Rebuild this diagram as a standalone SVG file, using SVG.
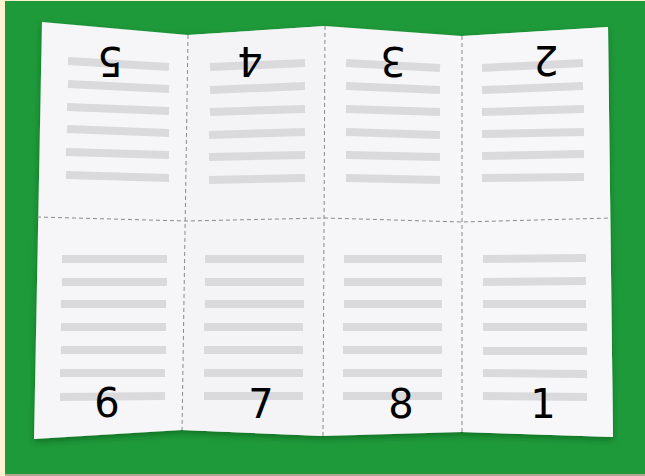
<svg xmlns="http://www.w3.org/2000/svg" width="645" height="476" viewBox="0 0 645 476">
  <style>
    .tl { stroke: #dadadc; stroke-width: 8; stroke-linecap: butt; fill: none; }
    .fold { stroke: #8a8a8a; stroke-width: 1; stroke-dasharray: 4 3; fill: none; }
    .num { font-family: "DejaVu Sans", "Liberation Sans", sans-serif; font-size: 40px; fill: #000; text-anchor: middle; }
  </style>
  <defs>
    <filter id="shadow" x="-5%" y="-5%" width="110%" height="115%">
      <feDropShadow dx="0" dy="3" stdDeviation="3" flood-color="#003310" flood-opacity="0.4"/>
    </filter>
  </defs>
  <rect x="0" y="0" width="645" height="476" fill="#fff2cf"/>
  <rect x="5" y="1" width="640" height="473" fill="#1e9a3a"/>
  <rect x="5" y="474" width="640" height="2" fill="#b3a48e"/>

  <g id="paper">
    <polygon points="42,22 188,35 325,26 462,36 608,27 613,437 462,432 323,436 182,430 34,439" fill="#f6f6f8" filter="url(#shadow)"/>
    <polygon points="188,35 325,26 323,436 182,430" fill="#f3f3f5" opacity="0.6"/>
    <polygon points="462,36 608,27 613,437 462,432" fill="#f8f8fa" opacity="0.6"/>
  </g>

  <g id="connectors">
    <polyline class="fold" points="37,217 186,221 325,218 462,222 611,218"/>
    <line class="fold" x1="188" y1="35" x2="182" y2="430"/>
    <line class="fold" x1="325" y1="26" x2="323" y2="436"/>
    <line class="fold" x1="462" y1="36" x2="462" y2="432"/>
  </g>

  <g id="panel-5">
    <line class="tl" x1="68" y1="61" x2="169" y2="67"/>
    <line class="tl" x1="68" y1="84" x2="169" y2="89"/>
    <line class="tl" x1="67" y1="107" x2="169" y2="111"/>
    <line class="tl" x1="67" y1="129" x2="169" y2="133"/>
    <line class="tl" x1="66" y1="152" x2="169" y2="155"/>
    <line class="tl" x1="66" y1="175" x2="169" y2="178"/>
    <text class="num" x="110" y="76.6" transform="rotate(180 110 62)">5</text>
  </g>

  <g id="panel-4">
    <line class="tl" x1="210" y1="67" x2="305" y2="63"/>
    <line class="tl" x1="210" y1="90" x2="305" y2="86"/>
    <line class="tl" x1="210" y1="112" x2="305" y2="109"/>
    <line class="tl" x1="209" y1="135" x2="305" y2="132"/>
    <line class="tl" x1="209" y1="157" x2="305" y2="155"/>
    <line class="tl" x1="209" y1="180" x2="305" y2="178"/>
    <text class="num" x="250" y="76" transform="rotate(180 250 61.4)">4</text>
  </g>

  <g id="panel-3">
    <line class="tl" x1="346" y1="63" x2="440" y2="68"/>
    <line class="tl" x1="346" y1="86" x2="440" y2="90"/>
    <line class="tl" x1="346" y1="109" x2="440" y2="112"/>
    <line class="tl" x1="346" y1="132" x2="440" y2="135"/>
    <line class="tl" x1="346" y1="155" x2="440" y2="157"/>
    <line class="tl" x1="346" y1="178" x2="440" y2="180"/>
    <text class="num" x="393" y="76" transform="rotate(180 393 61.4)">3</text>
  </g>

  <g id="panel-2">
    <line class="tl" x1="482" y1="68" x2="583" y2="63"/>
    <line class="tl" x1="482" y1="90" x2="583" y2="86"/>
    <line class="tl" x1="482" y1="112" x2="584" y2="109"/>
    <line class="tl" x1="482" y1="134" x2="584" y2="132"/>
    <line class="tl" x1="482" y1="156" x2="584" y2="154"/>
    <line class="tl" x1="482" y1="178" x2="584" y2="177"/>
    <text class="num" x="546" y="75" transform="rotate(180 546 60.4)">2</text>
  </g>

  <g id="panel-6">
    <line class="tl" x1="62" y1="259" x2="167" y2="259"/>
    <line class="tl" x1="62" y1="282" x2="167" y2="282"/>
    <line class="tl" x1="61" y1="304" x2="166" y2="304"/>
    <line class="tl" x1="61" y1="327" x2="166" y2="327"/>
    <line class="tl" x1="61" y1="350" x2="166" y2="350"/>
    <line class="tl" x1="60" y1="373" x2="165" y2="373"/>
    <line class="tl" x1="60" y1="397" x2="165" y2="396"/>
    <text class="num" x="107" y="417">6</text>
  </g>

  <g id="panel-7">
    <line class="tl" x1="205" y1="259" x2="304" y2="259"/>
    <line class="tl" x1="205" y1="282" x2="304" y2="282"/>
    <line class="tl" x1="205" y1="304" x2="304" y2="304"/>
    <line class="tl" x1="204" y1="327" x2="303" y2="327"/>
    <line class="tl" x1="204" y1="350" x2="303" y2="350"/>
    <line class="tl" x1="204" y1="373" x2="303" y2="373"/>
    <line class="tl" x1="204" y1="396" x2="303" y2="396"/>
    <text class="num" x="261" y="418">7</text>
  </g>

  <g id="panel-8">
    <line class="tl" x1="344" y1="259" x2="442" y2="259"/>
    <line class="tl" x1="344" y1="282" x2="442" y2="282"/>
    <line class="tl" x1="344" y1="304" x2="442" y2="304"/>
    <line class="tl" x1="343" y1="327" x2="442" y2="327"/>
    <line class="tl" x1="343" y1="350" x2="442" y2="350"/>
    <line class="tl" x1="343" y1="373" x2="442" y2="373"/>
    <line class="tl" x1="343" y1="396" x2="442" y2="396"/>
    <text class="num" x="401" y="418">8</text>
  </g>

  <g id="panel-1">
    <line class="tl" x1="483" y1="259" x2="586" y2="258"/>
    <line class="tl" x1="483" y1="282" x2="586" y2="281"/>
    <line class="tl" x1="483" y1="304" x2="586" y2="304"/>
    <line class="tl" x1="483" y1="327" x2="587" y2="327"/>
    <line class="tl" x1="483" y1="351" x2="587" y2="351"/>
    <line class="tl" x1="483" y1="373" x2="587" y2="374"/>
    <line class="tl" x1="483" y1="396" x2="587" y2="397"/>
    <text class="num" x="543" y="418">1</text>
  </g>
</svg>
